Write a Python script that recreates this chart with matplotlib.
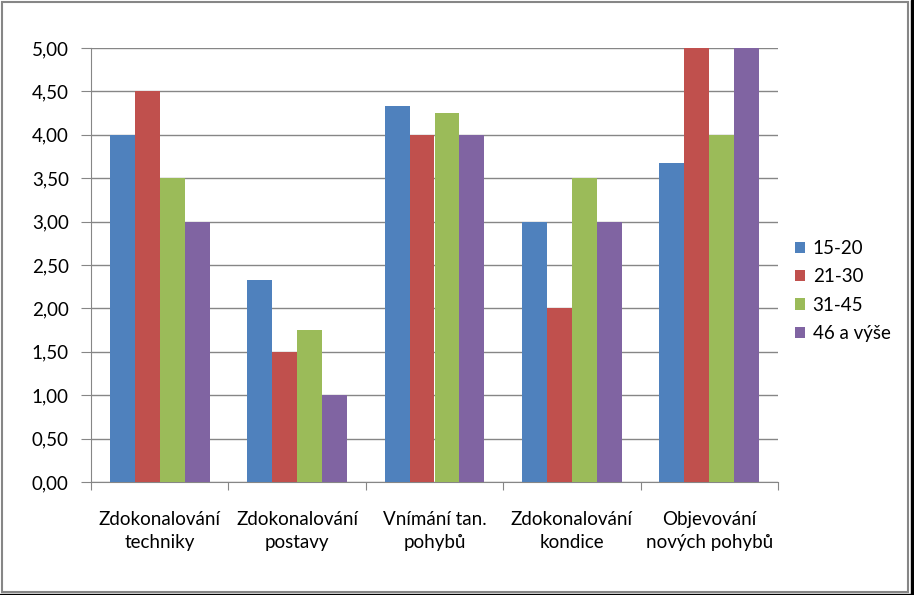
import matplotlib.pyplot as plt
import numpy as np
from matplotlib.patches import Rectangle

categories = ["Zdokonalování\ntechniky", "Zdokonalování\npostavy", "Vnímání tan.\npohybů",
              "Zdokonalování\nkondice", "Objevování\nnových pohybů"]
series = ["15-20", "21-30", "31-45", "46 a výše"]
v_15_20 = [4.00, 2.33, 4.33, 3.00, 3.67]
v_21_30 = [4.50, 1.50, 4.00, 2.00, 5.00]
v_31_45 = [3.50, 1.75, 4.25, 3.50, 4.00]
v_46 = [3.00, 1.00, 4.00, 3.00, 5.00]
values = [v_15_20, v_21_30, v_31_45, v_46]
colors = ["#4F81BD", "#C0504D", "#9BBB59", "#8064A2"]

plt.rcParams['font.family'] = ['Lato', 'DejaVu Sans']
FS = 13.5

fig = plt.figure(figsize=(9.14, 5.95), dpi=100)
W, H = 914, 595
ax = fig.add_axes([91 / W, (H - 482) / H, (778 - 91) / W, (482 - 48) / H])

x = np.arange(len(categories))
bw = 1 / 5.5
for i, (name, vals) in enumerate(zip(series, values)):
    ax.bar(x + (i - 1.5) * bw, vals, bw, color=colors[i], label=name, zorder=3)

ax.set_xlim(-0.5, len(categories) - 0.5)
ax.set_ylim(0, 5)
yt = np.arange(0, 5.01, 0.5)
ax.set_yticks(yt)
ax.set_yticklabels([f"{v:.2f}".replace(".", ",") for v in yt], fontsize=FS)
ax.yaxis.grid(True, color="#868686", linewidth=1, zorder=0)

ax.set_xticks(np.arange(-0.5, len(categories)), minor=False)
ax.set_xticklabels([])
ax.set_xticks(x, minor=True)
ax.set_xticklabels(categories, minor=True, fontsize=FS, linespacing=1.45)
ax.tick_params(axis='x', which='major', length=6, color="#868686")
ax.tick_params(axis='x', which='minor', length=0, pad=21)
ax.tick_params(axis='y', length=7, color="#868686", pad=9)

for s in ["top", "right"]:
    ax.spines[s].set_visible(False)
for s in ["left", "bottom"]:
    ax.spines[s].set_color("#868686")

leg = ax.legend(loc="center left", bbox_to_anchor=(1.0, 0.44), frameon=False,
                fontsize=FS, handlelength=0.55, handleheight=0.55, handletextpad=0.4,
                labelspacing=0.6)

# chart border with shadow
fig.patches.append(Rectangle((2 / W, 3 / H), (908 - 2) / W, (593 - 3) / H,
                             transform=fig.transFigure, fill=False,
                             edgecolor="#868686", linewidth=1.5))
fig.patches.append(Rectangle((911 / W, 0), 3 / W, 1, transform=fig.transFigure,
                             color="black"))
fig.patches.append(Rectangle((0, 0), 1, 1.5 / H, transform=fig.transFigure,
                             color="black"))

fig.savefig("out.png", dpi=100)
